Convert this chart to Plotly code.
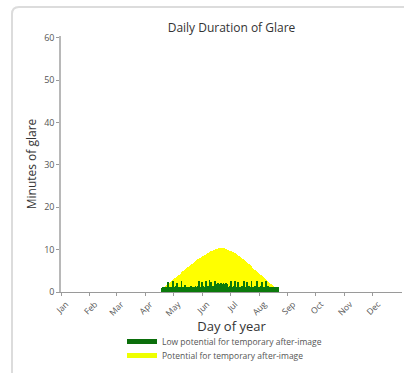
import plotly.graph_objects as go

# ---- data -------------------------------------------------------------
month_ticks = [1, 32, 60, 91, 121, 152, 182, 213, 244, 274, 305, 335]
month_labels = ["Jan", "Feb", "Mar", "Apr", "May", "Jun", "Jul", "Aug", "Sep", "Oct", "Nov", "Dec"]

first_day = 109
# total minutes of glare per day (top of yellow area), days 109..233
total_minutes = [
    1.0, 1.1, 1.2, 1.3, 1.5, 1.6, 1.7, 2.4, 2.0, 2.2,
    2.4, 2.6, 2.8, 3.0, 3.2, 3.4, 3.5, 3.7, 3.9, 4.1,
    4.3, 4.5, 4.7, 4.9, 5.0, 5.2, 5.4, 5.6, 5.8, 5.9,
    6.1, 6.3, 6.5, 6.7, 6.8, 7.0, 7.2, 7.3, 7.5, 7.7,
    7.8, 8.0, 8.1, 8.3, 8.4, 8.6, 8.8, 8.8, 9.0, 9.1,
    9.3, 9.4, 9.5, 9.7, 9.7, 9.8, 10.0, 10.0, 10.1, 10.1,
    10.2, 10.3, 10.2, 10.4, 10.3, 10.4, 10.2, 10.3, 10.1, 10.2,
    10.0, 9.9, 9.8, 9.7, 9.6, 9.5, 9.4, 9.2, 9.1, 9.0,
    8.8, 8.7, 8.5, 8.4, 8.2, 8.0, 7.9, 7.7, 7.5, 7.3,
    7.1, 6.9, 6.7, 6.5, 6.3, 6.1, 5.9, 5.7, 5.5, 5.3,
    5.1, 4.9, 4.7, 4.5, 4.3, 4.1, 3.9, 3.7, 3.5, 3.3,
    3.1, 2.9, 2.7, 2.5, 2.3, 2.1, 1.9, 1.8, 1.6, 1.4,
    1.3, 1.2, 1.2, 1.0, 1.1,
]
# minutes with low potential for temporary after-image, days 109..233
low_minutes = [
    1.0, 1.1, 1.2, 1.1, 1.3, 1.1, 1.2, 2.4, 1.1, 1.2,
    1.3, 1.1, 2.6, 1.2, 1.1, 1.4, 2.2, 1.2, 1.1, 1.3,
    1.2, 2.5, 1.3, 1.1, 1.2, 1.6, 1.2, 1.1, 1.3, 1.2,
    1.1, 1.4, 1.2, 1.3, 1.1, 1.2, 1.5, 1.3, 1.2, 1.4,
    2.7, 1.3, 1.2, 2.4, 1.4, 1.2, 1.3, 2.6, 1.2, 1.5,
    1.3, 2.8, 1.4, 2.3, 1.2, 1.4, 1.3, 2.5, 2.0, 2.0,
    2.1, 2.0, 2.0, 2.1, 2.0, 2.0, 2.1, 2.0, 2.0, 2.1,
    2.0, 1.3, 1.2, 1.4, 2.6, 1.3, 1.2, 1.4, 2.5, 1.3,
    1.2, 1.4, 2.4, 1.2, 1.3, 1.2, 1.5, 1.3, 2.6, 1.2,
    1.3, 2.3, 1.2, 1.4, 1.2, 1.3, 2.7, 1.2, 1.3, 1.2,
    1.4, 1.3, 2.5, 1.2, 1.3, 1.2, 1.4, 2.4, 1.2, 1.3,
    1.2, 2.6, 1.3, 1.2, 1.4, 1.2, 1.3, 1.1, 1.2, 1.1,
    1.2, 1.1, 1.2, 1.0, 1.1,
]
days = list(range(first_day, first_day + len(total_minutes)))

names = ["Low potential for temporary after-image", "Potential for temporary after-image"]
colors = ["#0b7a0b", "#ffff00"]
legend_colors = ["#0b6e0b", "#eeff00"]

# ---- figure -----------------------------------------------------------
W, H = 404, 373
L, R, T, B = 61, 2, 36, 81
pw, ph = W - L - R, H - T - B

def px_x(px):
    return (px - L) / pw
def px_y(py):
    return (H - B - py) / ph

fig = go.Figure()
fig.add_trace(go.Bar(x=days, y=total_minutes, width=1, marker=dict(color=colors[1], line=dict(width=0)),
                     showlegend=False, hoverinfo="skip"))
fig.add_trace(go.Bar(x=days, y=low_minutes, width=1, marker=dict(color=colors[0], line=dict(width=0)),
                     showlegend=False, hoverinfo="skip"))
# legend entries (one legend box each so rows can sit close together)
for nm, c, lg in zip(names, legend_colors, ["legend", "legend2"]):
    fig.add_trace(go.Scatter(x=[None], y=[None], mode="lines", name=nm, legend=lg,
                             line=dict(color=c, width=5)))

# screenshot frame
x0, y1 = px_x(12), px_y(7)
x1, y0 = px_x(430), px_y(400)
rx, ry = 7 / pw, 7 / ph
path = (f"M {x0},{y0} L {x0},{y1-ry} Q {x0},{y1} {x0+rx},{y1} L {x1},{y1}")
fig.add_shape(type="path", path=path, xref="paper", yref="paper",
              line=dict(color="#dcdcdc", width=2), layer="below")

legend_common = dict(xanchor="left", yanchor="top", font=dict(size=8.5, color="#555555"),
                     bgcolor="rgba(0,0,0,0)", itemwidth=30)

fig.update_layout(
    width=W, height=H,
    margin=dict(l=L, r=R, t=T, b=B, autoexpand=False),
    paper_bgcolor="white", plot_bgcolor="white",
    barmode="overlay", bargap=0,
    font=dict(family="Open Sans", color="#333333"),
    title=dict(text="Daily Duration of Glare", x=(L + pw / 2) / W, xanchor="center",
               y=1 - 28 / H, yanchor="middle", font=dict(size=12, color="#333333")),
    xaxis=dict(range=[1, 1 + pw / 0.934], tickvals=month_ticks, ticktext=month_labels,
               tickangle=-45, tickfont=dict(size=8.5, color="#555555"), ticklabelshift=5,
               showgrid=False, zeroline=False, showline=True, linecolor="#9a9a9a", linewidth=1,
               ticks="outside", ticklen=3, tickcolor="#9a9a9a",
               title=dict(text="Day of year", font=dict(size=13, color="#333333"), standoff=0),
               fixedrange=True),
    yaxis=dict(range=[0, 60.47], tickvals=[0, 10, 20, 30, 40, 50, 60],
               tickfont=dict(size=9, color="#555555"),
               showgrid=False, zeroline=False, showline=True, linecolor="#b8b8b8", linewidth=1.5,
               ticks="outside", ticklen=3, tickcolor="#9a9a9a",
               title=dict(text="Minutes of glare", font=dict(size=12, color="#333333"), standoff=5),
               fixedrange=True),
    legend=dict(x=px_x(122), y=px_y(327), **legend_common),
    legend2=dict(x=px_x(122), y=px_y(341), **legend_common),
    showlegend=True,
)

fig.write_html("out.html", config={"displayModeBar": False},
               post_script="document.body.style.margin='0';")
